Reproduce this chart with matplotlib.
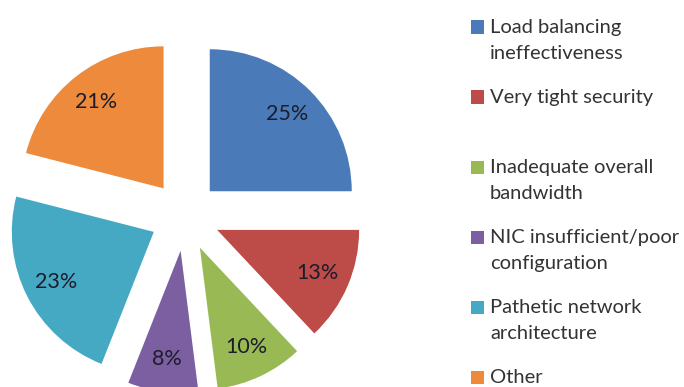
import matplotlib.pyplot as plt
from matplotlib.patches import Rectangle

categories = ['Load balancing\nineffectiveness', 'Very tight security',
              'Inadequate overall\nbandwidth', 'NIC insufficient/poor\nconfiguration',
              'Pathetic network\narchitecture', 'Other']
values = [25, 13, 10, 8, 23, 21]
colors = ['#4a7bb8', '#bd4b48', '#98b954', '#7b5fa0', '#46a9c4', '#ed8a3c']

plt.rcParams['font.family'] = ['Lato', 'DejaVu Sans']

fig = plt.figure(figsize=(6.84, 3.87), dpi=100)
ax = fig.add_axes([0, 0, 1, 1])

# explode is in data units here (pixels), radius 142 px
wedges, texts, autotexts = ax.pie(values, colors=colors, startangle=90, counterclock=False,
                                  explode=[35] * len(values), center=(185, 171), radius=142,
                                  autopct='%d%%', pctdistance=0.77,
                                  textprops=dict(fontsize=15.5, color='#1c1c2c'),
                                  wedgeprops=dict(linewidth=0))
ax.set_xlim(0, 684)
ax.set_ylim(0, 387)
ax.set_aspect('equal')
ax.axis('off')

# legend, one entry every 70 px, square beside first line
for i, (lab, c) in enumerate(zip(categories, colors)):
    y = 1 - (27 + 70 * i) / 387
    fig.patches.append(Rectangle((471 / 684, y - 6.5 / 387), 13 / 684, 13 / 387,
                                 transform=fig.transFigure, facecolor=c, edgecolor='none'))
    fig.text(490 / 684, y + 8 / 387, lab, fontsize=14.5, color='#333333', va='top',
             linespacing=1.62)

fig.savefig('out.png', dpi=100)
